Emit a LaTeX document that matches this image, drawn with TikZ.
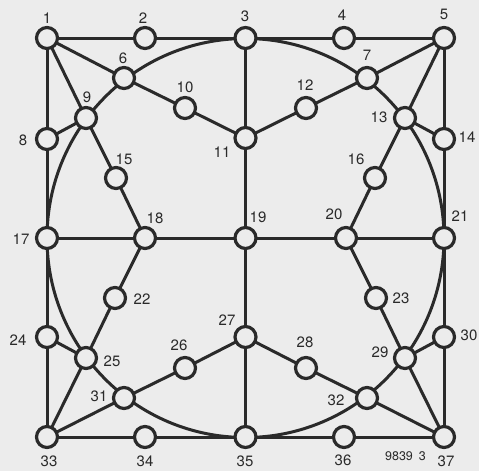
\documentclass[tikz,border=0pt]{standalone}
\usepackage{fontspec}
\setmainfont{TeX Gyre Heros}
\definecolor{bg}{RGB}{236,236,236}
\definecolor{ink}{RGB}{42,42,42}
\begin{document}
\begin{tikzpicture}[x=1pt,y=-1pt,
  vtx/.style={circle,draw=ink,fill=bg,line width=3.2pt,minimum size=21pt,inner sep=0pt},
  edge/.style={draw=ink,line width=3pt},
  lbl/.style={text=ink,font=\fontsize{15}{15}\selectfont,inner sep=0pt}]
\fill[bg] (0,0) rectangle (479,471);
\useasboundingbox (0,0) rectangle (479,471);
% ring
\draw[edge] (245.5,238) ellipse [x radius=198.5pt, y radius=199.5pt];
% coordinates
\coordinate (c1) at (47,38);   \coordinate (c2) at (145,38);  \coordinate (c3) at (245.5,38);
\coordinate (c4) at (344,38);  \coordinate (c5) at (444,38);
\coordinate (c6) at (124,78);  \coordinate (c7) at (367,78);
\coordinate (c8) at (47,139);  \coordinate (c9) at (86,118);  \coordinate (c10) at (185,108);
\coordinate (c11) at (245.5,138); \coordinate (c12) at (306,108); \coordinate (c13) at (405,118);
\coordinate (c14) at (444,139);
\coordinate (c15) at (116,178); \coordinate (c16) at (375,178);
\coordinate (c17) at (47,238); \coordinate (c18) at (145,238); \coordinate (c19) at (245.5,238);
\coordinate (c20) at (346,238); \coordinate (c21) at (444,238);
\coordinate (c22) at (115,298); \coordinate (c23) at (376,298);
\coordinate (c24) at (47,337); \coordinate (c25) at (86,358); \coordinate (c26) at (185,368);
\coordinate (c27) at (245.5,337); \coordinate (c28) at (306,368); \coordinate (c29) at (405,358);
\coordinate (c30) at (444,337);
\coordinate (c31) at (124,398); \coordinate (c32) at (367,398);
\coordinate (c33) at (47,437); \coordinate (c34) at (145,437); \coordinate (c35) at (245.5,437);
\coordinate (c36) at (344,437); \coordinate (c37) at (444,437);
% edges
\draw[edge] (c1)--(c5)--(c37)--(c33)--cycle;
\draw[edge] (c3)--(c35);
\draw[edge] (c17)--(c21);
\draw[edge] (c1)--(c6)--(c10)--(c11);
\draw[edge] (c1)--(c9)--(c15)--(c18);
\draw[edge] (c8)--(c9);
\draw[edge] (c5)--(c7)--(c12)--(c11);
\draw[edge] (c5)--(c13)--(c16)--(c20);
\draw[edge] (c14)--(c13);
\draw[edge] (c33)--(c25)--(c22)--(c18);
\draw[edge] (c33)--(c31)--(c26)--(c27);
\draw[edge] (c24)--(c25);
\draw[edge] (c37)--(c29)--(c23)--(c20);
\draw[edge] (c37)--(c32)--(c28)--(c27);
\draw[edge] (c30)--(c29);
% vertices
\foreach \i in {1,...,37} \node[vtx] (n\i) at (c\i) {};
% labels
\node[lbl] (l1) at (47,18) {1};
\node[lbl] (l2) at (143,18) {2};
\node[lbl] (l3) at (245,16) {3};
\node[lbl] (l4) at (342,15) {4};
\node[lbl] (l5) at (444,14) {5};
\node[lbl] (l6) at (123,58) {6};
\node[lbl] (l7) at (367,55) {7};
\node[lbl] (l8) at (23,140) {8};
\node[lbl] (l9) at (87,97) {9};
\node[lbl] (l10) at (185,87) {10};
\node[lbl] (l11) at (222,152) {11};
\node[lbl] (l12) at (305,85) {12};
\node[lbl] (l13) at (379,117) {13};
\node[lbl] (l14) at (467,137) {14};
\node[lbl] (l15) at (124,159) {15};
\node[lbl] (l16) at (356,159) {16};
\node[lbl] (l17) at (21,239) {17};
\node[lbl] (l18) at (155,218) {18};
\node[lbl] (l19) at (258,217) {19};
\node[lbl] (l20) at (334,214) {20};
\node[lbl] (l21) at (460,216) {21};
\node[lbl] (l22) at (142,299) {22};
\node[lbl] (l23) at (401,298) {23};
\node[lbl] (l24) at (18,340) {24};
\node[lbl] (l25) at (112,361) {25};
\node[lbl] (l26) at (179,345) {26};
\node[lbl] (l27) at (227,320) {27};
\node[lbl] (l28) at (305,342) {28};
\node[lbl] (l29) at (380,352) {29};
\node[lbl] (l30) at (469,335) {30};
\node[lbl] (l31) at (99,396) {31};
\node[lbl] (l32) at (336,400) {32};
\node[lbl] (l33) at (49,461) {33};
\node[lbl] (l34) at (145,461) {34};
\node[lbl] (l35) at (245,461) {35};
\node[lbl] (l36) at (343,460) {36};
\node[lbl] (l37) at (446,461) {37};
\node[lbl,font=\fontsize{12.5}{12.5}\selectfont] (code) at (405.5,456) {9839\hspace{6pt}3};
\end{tikzpicture}
\end{document}
